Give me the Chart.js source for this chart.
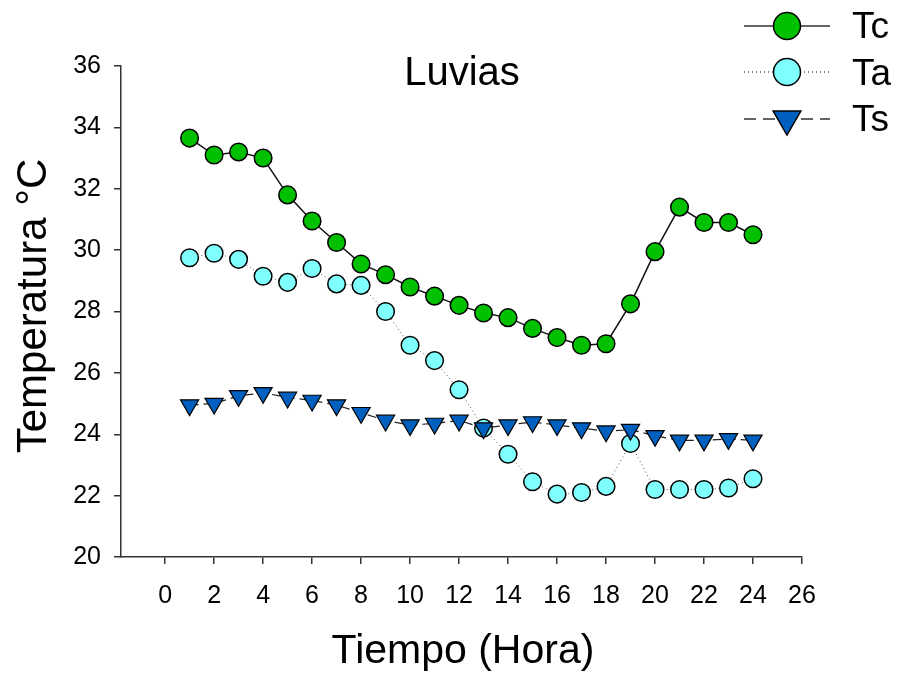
<!DOCTYPE html>
<html>
<head>
<meta charset="utf-8">
<script src="https://cdn.jsdelivr.net/npm/chart.js@4.4.1/dist/chart.umd.min.js"></script>
<style>
  body { margin: 0; background: #fff; }
  #wrap { width: 902px; height: 675px; position: relative; }
</style>
</head>
<body>
<div id="wrap"><canvas id="chart"></canvas></div>
<script>
// Data
const hours = [1,2,3,4,5,6,7,8,9,10,11,12,13,14,15,16,17,18,19,20,21,22,23,24];
const tc = [33.65,33.1,33.2,33.0,31.8,30.95,30.25,29.55,29.2,28.8,28.5,28.2,27.95,27.8,27.45,27.15,26.9,26.95,28.25,29.95,31.4,30.9,30.9,30.5];
const ta = [29.75,29.9,29.7,29.15,28.95,29.4,28.9,28.85,28.0,26.9,26.4,25.45,24.2,23.35,22.45,22.05,22.1,22.3,23.7,22.2,22.2,22.2,22.25,22.55];
const ts = [24.95,25.0,25.25,25.35,25.2,25.1,24.95,24.7,24.45,24.3,24.35,24.45,24.2,24.3,24.4,24.3,24.2,24.1,24.15,23.95,23.8,23.8,23.85,23.8];
const xTicks = [0,2,4,6,8,10,12,14,16,18,20,22,24,26];
const seriesNames = ["Tc", "Ta", "Ts"];

const FONT = "'Liberation Sans', Arial, sans-serif";
const AXIS = "#333";

function pts(ys) {
    return hours.map((h, i) => ({ x: h, y: ys[i] }));
}

const datasets = [
    {
        label: seriesNames[0], data: pts(tc), order: 2,
        borderColor: "#111", borderWidth: 1.5,
        pointStyle: "circle", pointRadius: 8.8, pointBackgroundColor: "#00c000",
        pointBorderColor: "#000", pointBorderWidth: 1.5
    },
    {
        label: seriesNames[1], data: pts(ta), order: 1,
        borderColor: "#555", borderWidth: 1, borderDash: [1, 3],
        pointStyle: "circle", pointRadius: 8.8, pointBackgroundColor: "#80ffff",
        pointBorderColor: "#000", pointBorderWidth: 1.5
    },
    {
        label: seriesNames[2], data: pts(ts), order: 0,
        borderColor: "#222", borderWidth: 1.2, borderDash: [9, 5],
        pointStyle: "triangle", pointRotation: 180, pointRadius: 10.5, pointBackgroundColor: "#0060c0",
        pointBorderColor: "#000", pointBorderWidth: 1.2
    }
];

// titles + legend drawn on top
const textPlugin = {
    id: "texts",
    afterDraw(chart) {
        const ctx = chart.ctx;
        ctx.save();
        ctx.fillStyle = "#000";
        ctx.textAlign = "center";
        ctx.textBaseline = "alphabetic";
        ctx.font = "40px " + FONT;
        ctx.fillText("Luvias", 462, 85);
        ctx.font = "41px " + FONT;
        ctx.fillText("Tiempo (Hora)", 463, 663);
        ctx.save();
        ctx.translate(46, 306);
        ctx.rotate(-Math.PI / 2);
        ctx.font = "42px " + FONT;
        ctx.fillText("Temperatura °C", 0, 0);
        ctx.restore();

        // legend
        const rowsY = [26, 72, 119];
        const baseY = [38, 85, 131];
        chart.data.datasets.forEach((ds, i) => {
            const y = rowsY[i];
            ctx.save();
            ctx.strokeStyle = i === 0 ? "#333" : (i === 2 ? "#333" : "#555");
            ctx.lineWidth = 1.5;
            ctx.setLineDash(i === 1 ? [1, 3] : (i === 2 ? [12, 7] : []));
            ctx.beginPath();
            ctx.moveTo(744, y);
            ctx.lineTo(830, y);
            ctx.stroke();
            ctx.setLineDash([]);
            ctx.fillStyle = ds.pointBackgroundColor;
            ctx.strokeStyle = "#000";
            ctx.lineWidth = 1.5;
            Chart.helpers.drawPoint(ctx, {
                pointStyle: ds.pointStyle,
                radius: ds.pointStyle === "triangle" ? 16 : 13.5,
                rotation: ds.pointRotation || 0,
                borderWidth: 1.5
            }, 787, y);
            ctx.restore();
            ctx.fillStyle = "#000";
            ctx.textAlign = "left";
            ctx.font = "37px " + FONT;
            ctx.fillText(ds.label, 852, baseY[i]);
        });
        ctx.restore();
    }
};

new Chart(document.getElementById("chart"), {
    type: "line",
    data: { datasets },
    plugins: [textPlugin],
    options: {
        responsive: true,
        maintainAspectRatio: false,
        animation: false,
        layout: { padding: { left: 0, right: 100, top: 66, bottom: 0 } },
        plugins: { legend: { display: false }, tooltip: { enabled: false } },
        scales: {
            x: {
                type: "linear", min: -1.8, max: 26,
                afterBuildTicks: axis => { axis.ticks = xTicks.map(v => ({ value: v })); },
                afterFit: scale => { scale.height = 118; },
                grid: { drawOnChartArea: false, drawTicks: true, tickLength: 7, color: AXIS, lineWidth: 1.5 },
                border: { display: true, color: AXIS, width: 1.5 },
                ticks: { color: "#000", font: { family: FONT, size: 25 }, padding: 17, maxRotation: 0, autoSkip: false }
            },
            y: {
                min: 20, max: 36,
                afterFit: scale => { scale.width = 121; },
                grid: { drawOnChartArea: false, drawTicks: true, tickLength: 7, color: AXIS, lineWidth: 1.5 },
                border: { display: true, color: AXIS, width: 1.5 },
                ticks: { stepSize: 2, color: "#000", font: { family: FONT, size: 25 }, padding: 13 }
            }
        }
    }
});
</script>
</body>
</html>
